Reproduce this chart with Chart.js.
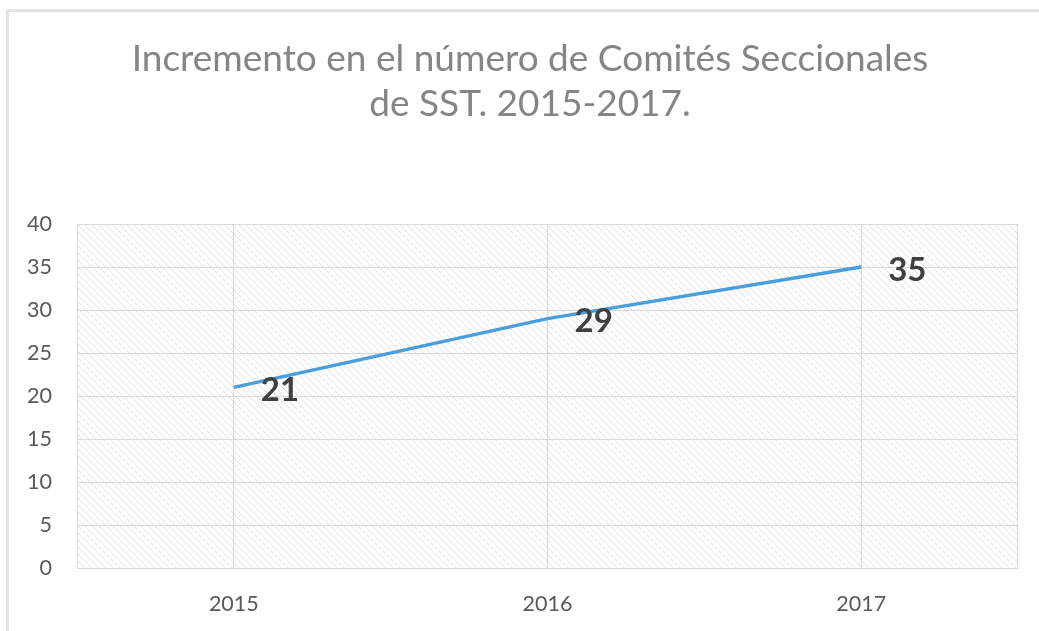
<!DOCTYPE html>
<html>
<head>
<meta charset="utf-8">
<script src="https://cdn.jsdelivr.net/npm/chart.js@4"></script>
<style>
    html, body { margin: 0; padding: 0; background: #fff; }
    #wrap { width: 1039px; height: 631px; }
</style>
</head>
<body>
<div id="wrap"><canvas id="chart" width="1039" height="631"></canvas></div>
<script>
const years = ['2015', '2016', '2017'];
const comites = [21, 29, 35];
const titleLines = ['Incremento en el número de Comités Seccionales', 'de SST. 2015-2017.'];

const gridColor = '#d9d9d9';

// diagonal hatch used behind the plot
function makeHatch() {
    const size = 7;
    const c = document.createElement('canvas');
    c.width = size;
    c.height = size;
    const g = c.getContext('2d');
    g.strokeStyle = '#dedede';
    g.lineWidth = 1;
    g.beginPath();
    g.moveTo(-1, -1); g.lineTo(size + 1, size + 1);
    g.moveTo(-1, size - 1); g.lineTo(1, size + 1);
    g.moveTo(size - 1, -1); g.lineTo(size + 1, 1);
    g.stroke();
    return g.createPattern(c, 'repeat');
}

const frameAndHatch = {
    id: 'frameAndHatch',
    beforeDraw(chart) {
        const ctx = chart.ctx;
        const a = chart.chartArea;
        ctx.save();
        // outer frame (top and left edges visible)
        ctx.fillStyle = '#e4e4e8';
        ctx.fillRect(6, 9, chart.width - 6, 3);
        ctx.fillRect(6, 9, 3, chart.height - 9);
        ctx.fillStyle = makeHatch();
        ctx.fillRect(a.left, a.top, a.right - a.left, a.bottom - a.top);
        // title, centred a bit right of the canvas middle like the original
        ctx.font = '37px Lato, "Open Sans", sans-serif';
        ctx.fillStyle = '#858585';
        ctx.textAlign = 'center';
        ctx.textBaseline = 'middle';
        ctx.fillText(titleLines[0], 530, 59);
        ctx.fillText(titleLines[1], 530, 104);
        ctx.restore();
    },
    afterDatasetsDraw(chart) {
        const ctx = chart.ctx;
        const a = chart.chartArea;
        ctx.save();
        ctx.strokeStyle = gridColor;
        ctx.lineWidth = 1;
        ctx.strokeRect(a.left + 0.5, a.top + 0.5, a.right - a.left - 1, a.bottom - a.top);
        // value labels right of each point
        const meta = chart.getDatasetMeta(0);
        ctx.font = 'bold 33px Lato, "Open Sans", sans-serif';
        ctx.fillStyle = '#404040';
        ctx.textAlign = 'left';
        ctx.textBaseline = 'middle';
        meta.data.forEach((pt, i) => {
            ctx.fillText(String(comites[i]), pt.x + 27, pt.y + 3);
        });
        ctx.restore();
    }
};

const tickFont = { family: 'Lato, "Open Sans", sans-serif', size: 21.5 };

const ctx = document.getElementById('chart').getContext('2d');
new Chart(ctx, {
    type: 'line',
    data: {
        labels: years,
        datasets: [{
            label: 'Comités',
            data: comites,
            borderColor: '#4a9fdb',
            borderWidth: 3.5,
            pointRadius: 0,
            tension: 0,
            fill: false
        }]
    },
    options: {
        responsive: false,
        animation: false,
        layout: { padding: { left: 0, right: 21, top: 224, bottom: 0 } },
        plugins: {
            legend: { display: false },
            tooltip: { enabled: false },
            title: { display: false }
        },
        scales: {
            x: {
                offset: true,
                grid: { color: gridColor, drawTicks: false, offset: false },
                border: { display: false },
                ticks: { color: '#595959', padding: 23, font: tickFont },
                afterFit: s => { s.height = 63; }
            },
            y: {
                min: 0,
                max: 40,
                grid: { color: gridColor, drawTicks: false },
                border: { display: false },
                ticks: { stepSize: 5, color: '#595959', padding: 25, font: tickFont },
                afterFit: s => { s.width = 77; }
            }
        }
    },
    plugins: [frameAndHatch]
});
</script>
</body>
</html>
